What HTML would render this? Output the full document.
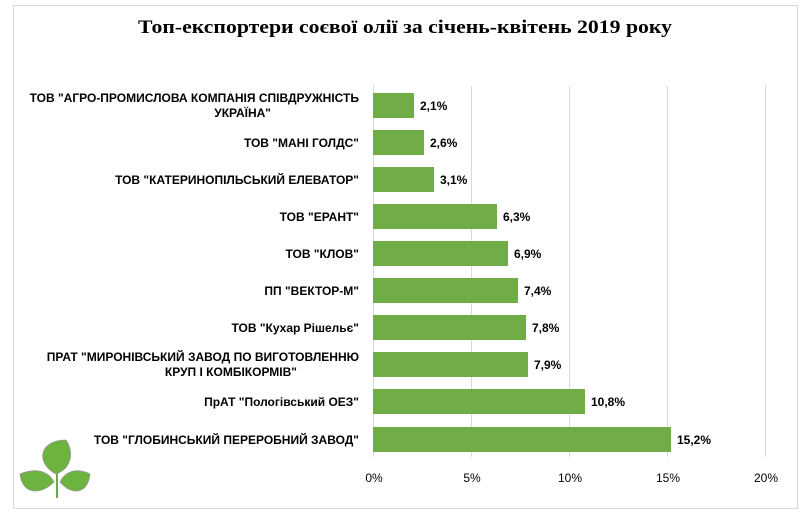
<!DOCTYPE html>
<html><head><meta charset="utf-8"><style>
body{margin:0;background:#fff}
svg{display:block}
</style></head><body>
<svg width="809" height="516" xmlns="http://www.w3.org/2000/svg">
<rect x="13.5" y="5.5" width="784" height="503" fill="#fff" stroke="#d9d9d9"/>
<text x="405" y="33" text-anchor="middle" font-family="Liberation Serif, serif" font-weight="bold" font-size="19" fill="#000" textLength="534" lengthAdjust="spacingAndGlyphs">Топ-експортери соєвої олії за січень-квітень 2019 року</text>
<g stroke="#d9d9d9" stroke-width="1">
<line x1="373.5" y1="86" x2="373.5" y2="457"/>
<line x1="471.5" y1="86" x2="471.5" y2="457"/>
<line x1="569.5" y1="86" x2="569.5" y2="457"/>
<line x1="667.5" y1="86" x2="667.5" y2="457"/>
<line x1="765.5" y1="86" x2="765.5" y2="457"/>
</g>
<g fill="#70ad47">
<rect x="373" y="93" width="41" height="25"/>
<rect x="373" y="130" width="51" height="25"/>
<rect x="373" y="167" width="61" height="25"/>
<rect x="373" y="204" width="124" height="25"/>
<rect x="373" y="241" width="135" height="25"/>
<rect x="373" y="278" width="145" height="25"/>
<rect x="373" y="315" width="153" height="25"/>
<rect x="373" y="352" width="155" height="25"/>
<rect x="373" y="389" width="212" height="25"/>
<rect x="373" y="427" width="298" height="25"/>
</g>
<g font-family="Liberation Sans, sans-serif" font-weight="bold" font-size="12" fill="#000">
<text x="420" y="110">2,1%</text>
<text x="430" y="147">2,6%</text>
<text x="440" y="184">3,1%</text>
<text x="503" y="221">6,3%</text>
<text x="514" y="258">6,9%</text>
<text x="524" y="295">7,4%</text>
<text x="532" y="332">7,8%</text>
<text x="534" y="369">7,9%</text>
<text x="591" y="406">10,8%</text>
<text x="677" y="444">15,2%</text>
</g>
<g font-family="Liberation Sans, sans-serif" font-weight="bold" font-size="12" fill="#000" text-anchor="end">
<text x="359" y="102">ТОВ "АГРО-ПРОМИСЛОВА КОМПАНІЯ СПІВДРУЖНІСТЬ</text>
<text x="271" y="117">УКРАЇНА"</text>
<text x="359" y="147">ТОВ "МАНІ ГОЛДС"</text>
<text x="359" y="184">ТОВ "КАТЕРИНОПІЛЬСЬКИЙ ЕЛЕВАТОР"</text>
<text x="359" y="221">ТОВ "ЕРАНТ"</text>
<text x="359" y="258">ТОВ "КЛОВ"</text>
<text x="359" y="295">ПП "ВЕКТОР-М"</text>
<text x="359" y="332">ТОВ "Кухар Рішельє"</text>
<text x="359" y="361">ПРАТ "МИРОНІВСЬКИЙ ЗАВОД ПО ВИГОТОВЛЕННЮ</text>
<text x="297" y="376">КРУП І КОМБІКОРМІВ"</text>
<text x="359" y="406">ПрАТ "Пологівський ОЕЗ"</text>
<text x="359" y="444">ТОВ "ГЛОБИНСЬКИЙ ПЕРЕРОБНИЙ ЗАВОД"</text>
</g>
<g font-family="Liberation Sans, sans-serif" font-size="12" fill="#000" text-anchor="middle">
<text x="374" y="482">0%</text>
<text x="472" y="482">5%</text>
<text x="570" y="482">10%</text>
<text x="668" y="482">15%</text>
<text x="766" y="482">20%</text>
</g>
<g stroke="#999" stroke-width="0.8">
<path d="M57 498 L57 470" fill="none" stroke="#6aa84f" stroke-width="2"/>
<path d="M56 474 C36 464 38 440 66 440 C74 452 72 468 56 474 Z" fill="#6db33f"/>
<path d="M54 482 C40 496 22 494 20 474 C34 468 48 470 54 482 Z" fill="#6db33f"/>
<path d="M60 482 C72 496 88 494 90 474 C78 468 66 470 60 482 Z" fill="#6db33f"/>
</g>
</svg>
</body></html>
